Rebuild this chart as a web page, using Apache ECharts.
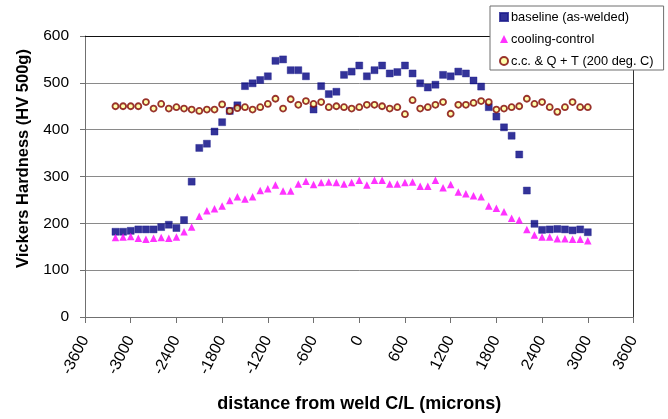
<!DOCTYPE html>
<html>
<head>
<meta charset="utf-8">
<script src="https://cdn.jsdelivr.net/npm/echarts@6/dist/echarts.min.js"></script>
<style>
  html, body { margin: 0; padding: 0; background: #fff; }
  #chart { width: 668px; height: 419px; }
</style>
</head>
<body>
<div id="chart"></div>
<script>
// Measurement positions across the weld, microns from the centre line
const positions = [];
for (let p = -3200; p <= 3000; p += 100) positions.push(p);

// Vickers hardness readings (HV 500g) at each position
const baseline = [
  182, 182, 184, 187, 187, 187, 192, 197, 190, 207,
  289, 361, 370, 396, 416, 440, 452, 493, 499, 506,
  514, 547, 550, 527, 527, 514, 443, 493, 476, 481,
  517, 524, 537, 514, 527, 537, 520, 523, 537, 520,
  499, 490, 496, 517, 514, 524, 520, 505, 492, 448,
  428, 405, 387, 347, 270, 199, 186, 187, 188, 187,
  185, 187, 181
];
const coolingControl = [
  170, 171, 172, 168, 166, 168, 170, 168, 171, 182,
  192, 215, 227, 231, 237, 249, 257, 252, 257, 270,
  274, 282, 269, 269, 284, 290, 283, 287, 288, 287,
  284, 287, 292, 282, 292, 292, 284, 284, 287, 288,
  279, 279, 292, 276, 283, 267, 263, 259, 257, 237,
  232, 225, 211, 207, 187, 175, 171, 171, 167, 167,
  166, 166, 163
];
const quenchTemper = [
  450, 450, 450, 450, 459, 445, 455, 445, 448, 445,
  443, 440, 443, 443, 454, 440, 446, 448, 443, 448,
  455, 466, 445, 465, 453, 461, 455, 459, 448, 450,
  448, 445, 448, 453, 453, 450, 445, 448, 433, 463,
  445, 448, 453, 459, 434, 453, 453, 457, 461, 459,
  443, 445, 448, 450, 466, 455, 459, 448, 438, 448,
  459, 448, 448
];

const seriesNames = ['baseline (as-welded)', 'cooling-control', 'c.c. & Q + T (200 deg. C)'];
const xTicks = { min: -3600, max: 3600, step: 600 };
const yTicks = { min: 0, max: 600, step: 100 };

const pairs = vals => positions.map((p, i) => [p, vals[i]]);
const FONT = 'Liberation Sans, Arial, sans-serif';
const plain = v => String(v);

const chart = echarts.init(document.getElementById('chart'));
chart.setOption({
  backgroundColor: '#ffffff',
  animation: false,
  grid: { left: 85, right: 34.5, top: 36, bottom: 102 },
  legend: {
    orient: 'vertical',
    left: 490,
    top: 6,
    padding: [4, 10, 2, 9],
    itemGap: 8,
    itemWidth: 8,
    itemHeight: 8,
    backgroundColor: '#ffffff',
    borderColor: '#6e6e6e',
    borderWidth: 1,
    borderRadius: 0,
    textStyle: { fontFamily: FONT, fontSize: 12.8, color: '#000', lineHeight: 14, padding: [0, 0, 0, -2] },
    data: seriesNames
  },
  xAxis: [{
    type: 'value',
    min: xTicks.min,
    max: xTicks.max,
    interval: xTicks.step,
    name: 'distance from weld C/L (microns)',
    nameLocation: 'middle',
    nameGap: 78,
    nameTextStyle: { fontFamily: FONT, fontSize: 18, fontWeight: 'bold', color: '#000' },
    axisLine: { show: true, onZero: false, lineStyle: { color: '#707070', width: 1 } },
    axisTick: { show: true, length: 6, lineStyle: { color: '#707070' } },
    axisLabel: { fontFamily: FONT, fontSize: 16, color: '#000', rotate: 63, margin: 20, formatter: plain, showMinLabel: true, showMaxLabel: true },
    splitLine: { show: false }
  }, {
    type: 'value',
    position: 'top',
    min: xTicks.min,
    max: xTicks.max,
    axisLine: { show: true, onZero: false, lineStyle: { color: '#111', width: 1 } },
    axisTick: { show: false },
    axisLabel: { show: false },
    splitLine: { show: false }
  }],
  yAxis: [{
    type: 'value',
    min: yTicks.min,
    max: yTicks.max,
    interval: yTicks.step,
    name: 'Vickers Hardness (HV 500g)',
    nameLocation: 'middle',
    nameGap: 53,
    nameTextStyle: { fontFamily: FONT, fontSize: 16.5, fontWeight: 'bold', color: '#000', padding: [0, 0, 0, 36] },
    axisLine: { show: true, onZero: false, lineStyle: { color: '#707070', width: 1 } },
    axisTick: { show: true, length: 5, lineStyle: { color: '#707070' } },
    axisLabel: { fontFamily: FONT, fontSize: 15.5, color: '#000', margin: 16, formatter: plain },
    splitLine: { show: true, lineStyle: { color: '#8a8a8a', width: 1 } }
  }, {
    type: 'value',
    position: 'right',
    min: yTicks.min,
    max: yTicks.max,
    axisLine: { show: true, onZero: false, lineStyle: { color: '#333', width: 1 } },
    axisTick: { show: false },
    axisLabel: { show: false },
    splitLine: { show: false }
  }],
  series: [{
    name: seriesNames[0],
    type: 'scatter',
    symbol: 'rect',
    symbolSize: 7,
    itemStyle: { color: '#000080', borderColor: '#1c1c8c', borderWidth: 0.5 },
    data: pairs(baseline)
  }, {
    name: seriesNames[1],
    type: 'scatter',
    symbol: 'triangle',
    symbolSize: 7.5,
    itemStyle: { color: '#ff00ff' },
    data: pairs(coolingControl)
  }, {
    name: seriesNames[2],
    type: 'scatter',
    symbol: 'circle',
    symbolSize: 6,
    itemStyle: { color: '#ffff99', borderColor: '#800000', borderWidth: 1.8 },
    data: pairs(quenchTemper)
  }]
});
</script>
</body>
</html>
